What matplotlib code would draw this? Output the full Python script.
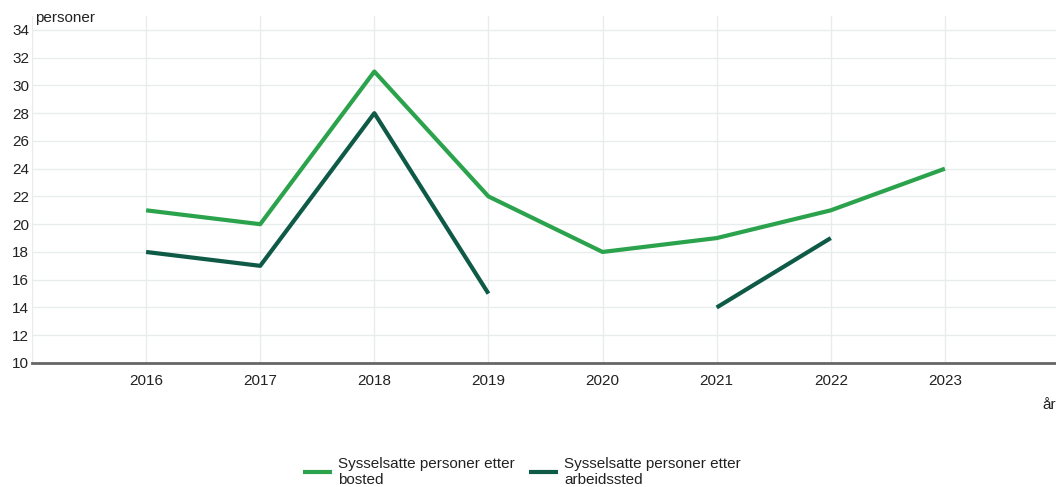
import numpy as np
import matplotlib.pyplot as plt

plt.rcParams['font.family'] = ['Liberation Sans', 'DejaVu Sans']

years = [2016, 2017, 2018, 2019, 2020, 2021, 2022, 2023]
bosted = [21, 20, 31, 22, 18, 19, 21, 24]
arbeidssted = [18, 17, 28, 15, np.nan, 14, 19, np.nan]

labels = ["Sysselsatte personer etter\nbosted", "Sysselsatte personer etter\narbeidssted"]
colors = ["#2ba24c", "#0e5a46"]

fig = plt.figure(figsize=(10.56, 4.87), dpi=100)
ax = fig.add_axes([32 / 1056, 124 / 487, 1027 / 1056, 347 / 487])

ax.plot(years, bosted, color=colors[0], lw=3, label=labels[0], solid_capstyle='butt')
ax.plot(years, arbeidssted, color=colors[1], lw=3, label=labels[1], solid_capstyle='butt')

ax.set_xlim(2015, 2024)
ax.set_ylim(10, 35)
ax.set_yticks(range(10, 35, 2))
ax.set_xticks(years)
ax.set_xticks([2015, 2024], minor=True)
ax.tick_params(axis='both', which='both', length=0, labelsize=11, colors='#222222')
ax.tick_params(axis='x', pad=8)
ax.tick_params(axis='y', pad=2)
ax.grid(True, which='both', color='#e8eced', lw=1)
ax.set_axisbelow(True)
for s in ['top', 'right', 'left']:
    ax.spines[s].set_visible(False)
ax.spines['bottom'].set_color('#666666')
ax.spines['bottom'].set_linewidth(2)

fig.text(35 / 1056, 1 - 18 / 487, "personer", fontsize=11, color='#222222', va='center')
fig.text(1042 / 1056, 1 - 405 / 487, "år", fontsize=11, color='#222222', va='center')

fig.legend(loc='center', bbox_to_anchor=(522 / 1056, 1 - 472 / 487), ncol=2, frameon=False,
           fontsize=11, handlelength=1.9, handletextpad=0.4, columnspacing=0.9,
           labelcolor='#222222', labelspacing=0.3)

fig.savefig("out.png", dpi=100)
